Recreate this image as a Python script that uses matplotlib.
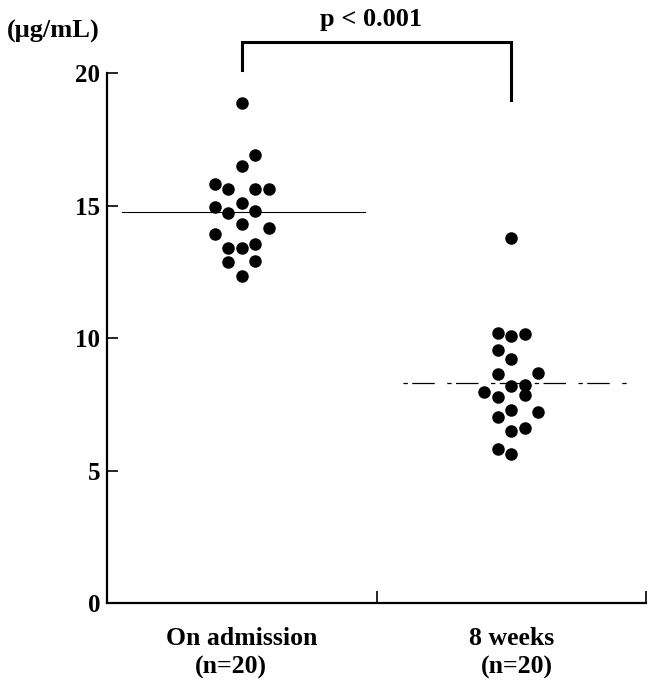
import matplotlib
matplotlib.use("Agg")
import matplotlib.pyplot as plt

# values (ug/mL)
categories = ["On admission", "8 weeks"]
n_labels = ["(n=20)", "(n=20)"]

admission = [18.88, 16.9, 16.5, 15.8, 15.63, 15.63, 15.63, 15.1, 14.93, 14.7,
             14.78, 14.3, 14.16, 13.92, 13.41, 13.41, 13.54, 12.87, 12.9, 12.34]
admission_col = [0, 1, 0, -2, -1, 1, 2, 0, -2, -1,
                 1, 0, 2, -2, -1, 0, 1, -1, 1, 0]

week8 = [13.79, 10.2, 10.08, 10.15, 9.55, 9.22, 8.63, 8.67, 8.2, 8.23,
         7.96, 7.79, 7.85, 7.28, 7.01, 7.2, 6.5, 6.59, 5.82, 5.62]
week8_col = [0, -1, 0, 1, -1, 0, -1, 2, 0, 1,
             -2, -1, 1, 0, -1, 2, 0, 1, -1, 0]

means = [14.77, 8.29]
p_text = "p < 0.001"

plt.rcParams["font.family"] = ["Liberation Serif", "DejaVu Serif"]
plt.rcParams["font.weight"] = "bold"

fig = plt.figure(figsize=(6.49, 6.83), dpi=100)
ax = fig.add_axes([0.1649, 0.1171, 0.8305, 0.776])

centers = [0.5, 1.5]
step = 0.05
for c, vals, cols in [(centers[0], admission, admission_col),
                      (centers[1], week8, week8_col)]:
    xs = [c + k * step for k in cols]
    ax.plot(xs, vals, "o", color="black", ms=8, mec="black", clip_on=False)

# mean lines
ax.plot([0.055, 0.957], [means[0]] * 2, color="black", lw=0.8)
ax.plot([1.10, 1.94], [means[1]] * 2, color="black", lw=0.9,
        dashes=(3.5, 3.5, 18, 10))

# significance bracket
ax.plot([0.5, 0.5, 1.5, 1.5], [20.1, 21.17, 21.17, 18.98], color="black",
        lw=2.2, clip_on=False, solid_joinstyle="miter")
ax.text(0.98, 21.6, p_text, ha="center", va="bottom", fontsize=19,
        fontweight="bold")

ax.set_xlim(0, 2)
ax.set_ylim(0, 20)
ax.set_yticks([0, 5, 10, 15, 20])
ax.set_xticks([1, 2])
ax.set_xticklabels([])
ax.tick_params(axis="y", direction="in", length=8, width=1.2, labelsize=18,
               pad=5)
ax.tick_params(axis="x", direction="in", length=9, width=1.2)
for lab in ax.get_yticklabels():
    lab.set_fontweight("bold")
ax.spines["top"].set_visible(False)
ax.spines["right"].set_visible(False)
ax.spines["left"].set_linewidth(1.6)
ax.spines["bottom"].set_linewidth(1.6)

label_offsets = [[0.0, -0.04], [0.0, 0.02]]
for c, cat, n, off in zip(centers, categories, n_labels, label_offsets):
    ax.text(c + off[0], -1.32, cat, ha="center", va="center", fontsize=18.5,
            fontweight="bold")
    ax.text(c + off[1], -2.42, n, ha="center", va="center", fontsize=18.5,
            fontweight="bold")

fig.text(7 / 649, 1 - 31 / 683, "(\u03bcg/mL)", ha="left", va="center",
         fontsize=19, fontweight="bold")

fig.savefig("out.png", dpi=100)
